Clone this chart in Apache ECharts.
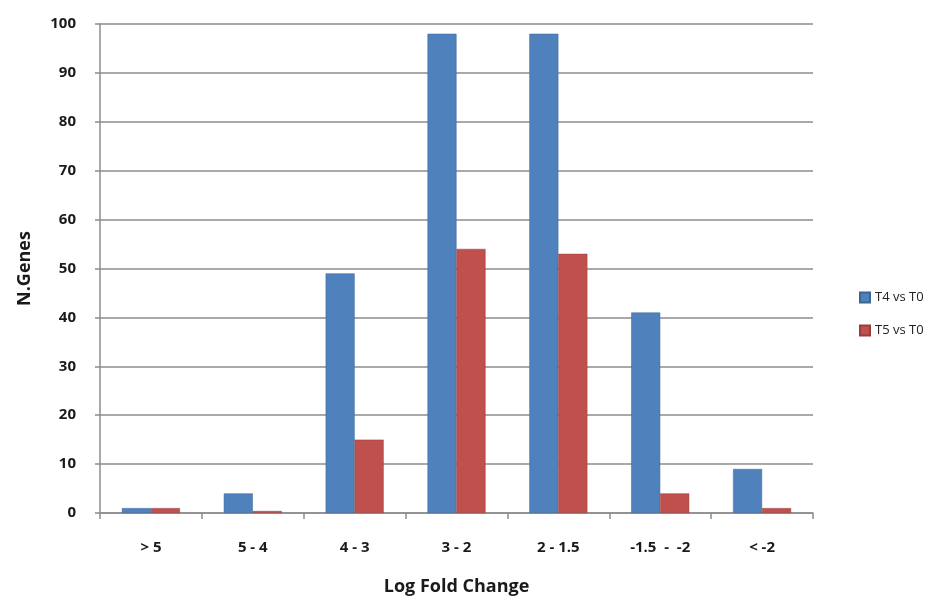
<!DOCTYPE html>
<html>
<head>
<meta charset="utf-8">
<title>N.Genes by Log Fold Change</title>
<script src="https://cdn.jsdelivr.net/npm/echarts@6/dist/echarts.min.js"></script>
<style>
  html, body { margin: 0; padding: 0; background: #ffffff; }
  #chart { width: 931px; height: 597px; }
</style>
</head>
<body>
<div id="chart"></div>
<script>
// Log fold change bins
var categories = ['> 5', '5 - 4', '4 - 3', '3 - 2', '2 - 1.5', '-1.5  -  -2', '< -2'];
// Number of genes per bin for each comparison
var t4VsT0 = [1, 4, 49, 98, 98, 41, 9];
var t5VsT0 = [1, 0, 15, 54, 53, 4, 1];
var seriesNames = ['T4 vs T0', 'T5 vs T0'];
var yTicks = { min: 0, max: 100, interval: 10 };

var FONT = '"Open Sans", "DejaVu Sans", sans-serif';
var chart = echarts.init(document.getElementById('chart'), null, { renderer: 'canvas' });

chart.setOption({
  backgroundColor: '#ffffff',
  animation: false,
  grid: { left: 100, right: 118, top: 24, bottom: 84, outerBoundsMode: 'none' },
  legend: {
    orient: 'vertical',
    left: 854,
    top: 286,
    itemWidth: 10,
    itemHeight: 10,
    itemGap: 20,
    icon: 'rect',
    textStyle: { fontFamily: FONT, fontSize: 13, color: '#222222' },
    data: seriesNames
  },
  xAxis: {
    type: 'category',
    data: categories,
    boundaryGap: true,
    name: 'Log Fold Change',
    nameLocation: 'middle',
    nameGap: 65,
    nameTextStyle: { fontFamily: FONT, fontSize: 18, fontWeight: 'bold', color: '#1a1a1a' },
    axisLine: { show: true, lineStyle: { color: '#8c8c8c', width: 1.5 } },
    axisTick: { show: true, length: 6, alignWithLabel: false, lineStyle: { color: '#8c8c8c', width: 1.5 } },
    axisLabel: { margin: 27, fontFamily: FONT, fontSize: 15, fontWeight: 'bold', color: '#1a1a1a' }
  },
  yAxis: {
    type: 'value',
    min: yTicks.min,
    max: yTicks.max,
    interval: yTicks.interval,
    name: 'N.Genes',
    nameLocation: 'middle',
    nameGap: 66,
    nameRotate: 90,
    nameTextStyle: { fontFamily: FONT, fontSize: 18, fontWeight: 'bold', color: '#1a1a1a' },
    axisLine: { show: true, lineStyle: { color: '#8c8c8c', width: 1.5 } },
    axisTick: { show: true, length: 5, lineStyle: { color: '#8c8c8c', width: 1.5 } },
    axisLabel: { margin: 24, fontFamily: FONT, fontSize: 15, fontWeight: 'bold', color: '#1a1a1a' },
    splitLine: { show: true, lineStyle: { color: '#8c8c8c', width: 1.5 } }
  },
  series: [
    {
      name: seriesNames[0],
      type: 'bar',
      data: t4VsT0,
      barWidth: 29,
      barGap: '0%',
      barMinHeight: 2,
      itemStyle: { color: '#4F81BD', borderColor: '#3d6696', borderWidth: 0.5 }
    },
    {
      name: seriesNames[1],
      type: 'bar',
      data: t5VsT0,
      barWidth: 29,
      barGap: '0%',
      barMinHeight: 2,
      itemStyle: { color: '#C0504D', borderColor: '#973d3a', borderWidth: 0.5 }
    }
  ]
});
</script>
</body>
</html>
